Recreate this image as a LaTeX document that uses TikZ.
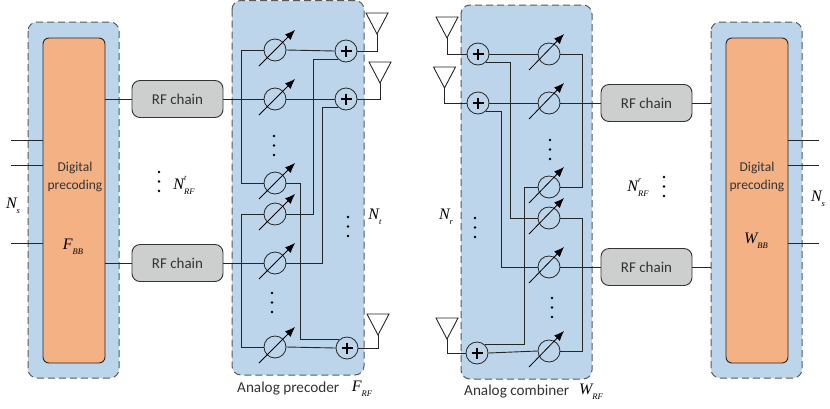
\documentclass[tikz,border=0pt]{standalone}
\usepackage{fontspec}
\setmainfont{Carlito}
\newfontfamily\varfont{Liberation Serif}
\definecolor{panelblue}{HTML}{BDD5EB}
\definecolor{baseband}{HTML}{F4B183}
\definecolor{chaingray}{HTML}{CDCFCE}
\definecolor{inkgray}{HTML}{333333}
\newcommand{\varname}[3]{{\varfont\itshape\fontsize{16}{16}\selectfont #1\rlap{\raisebox{1.2ex}{\fontsize{8}{8}\selectfont #2}}\raisebox{-0.7ex}{\fontsize{8.5}{8.5}\selectfont #3}}}
\newcommand{\dotstack}[2]{\fill (#1,#2) circle (1.3) (#1,#2+9.5) circle (1.3) (#1,#2+19) circle (1.3);}
\tikzset{
	panel/.style={draw=black!65,fill=panelblue,line width=1pt,dash pattern=on 7pt off 4pt,rounded corners=9pt},
	bbblock/.style={draw=black!85,fill=baseband,line width=0.9pt,rounded corners=6pt},
	rfchain/.style={draw=black!80,fill=chaingray,line width=0.9pt,rounded corners=8pt,minimum width=91pt,inner sep=0pt,text=inkgray,font=\fontsize{15}{18}\selectfont},
	shifter/.style={circle,draw=black!85,line width=0.8pt,minimum size=22pt,inner sep=0pt},
	adder/.style={shifter,path picture={\draw [line width=1.1pt,black] (path picture bounding box.center) ++(-5.5,0) -- ++(11,0) (path picture bounding box.center) ++(0,-5.5) -- ++(0,11);}},
	tuner/.style={line width=0.8pt,black,-{Latex[length=10pt,width=8pt]}},
	wire/.style={line width=0.9pt,black!85},
	txt/.style={inner sep=0pt,text=inkgray,font=\fontsize{13.5}{18}\selectfont,align=center},
	captxt/.style={inner sep=0pt,text=inkgray,font=\fontsize{15.2}{17}\selectfont}
}
\usetikzlibrary{arrows.meta}
\begin{document}
\begin{tikzpicture}[x=1pt,y=-1pt]
\useasboundingbox (0,0) rectangle (830,408);
% panels
\draw [panel] (28,22) rectangle (119,378);
\draw [panel] (232,0.5) rectangle (364,375);
\draw [panel] (461,5) rectangle (592,379);
\draw [panel] (711,22) rectangle (802,378);
% baseband blocks
\node [bbblock,minimum width=62pt,minimum height=325pt,inner sep=0pt] (bbt) at (74,200.5) {};
\node [bbblock,minimum width=62pt,minimum height=325pt,inner sep=0pt] (bbr) at (757,200.5) {};
\node [txt] (bbtxt) at (75,176.5) {Digital\\precoding};
\node [txt] (bbrxt) at (757,176.5) {Digital\\precoding};
\node (fbb) at (73,247) {\varname{F}{}{BB}};
\node (wbb) at (756,241) {\varname{W}{}{BB}};
% rf chains
\node [rfchain,minimum height=37pt] (rft1) at (177.5,99) {RF chain};
\node [rfchain,minimum height=37pt] (rft2) at (177.5,263) {RF chain};
\node [rfchain,minimum height=37pt] (rfr1) at (646.5,103) {RF chain};
\node [rfchain,minimum height=37pt] (rfr2) at (646.5,267) {RF chain};
% precoder shifters
\node [shifter] (pt1) at (275,50) {};
\node [shifter] (pt2) at (275,99) {};
\node [shifter] (pt3) at (275,183) {};
\node [shifter] (pt4) at (275,214) {};
\node [shifter] (pt5) at (275,263) {};
\node [shifter] (pt6) at (275,347) {};
\node [adder] (at1) at (346,51) {};
\node [adder] (at2) at (346,99) {};
\node [adder] (at3) at (347,348) {};
% combiner shifters
\node [shifter] (pr1) at (549,54) {};
\node [shifter] (pr2) at (549,103) {};
\node [shifter] (pr3) at (549,187) {};
\node [shifter] (pr4) at (549,218) {};
\node [shifter] (pr5) at (549,267) {};
\node [shifter] (pr6) at (549,351) {};
\node [adder] (ar1) at (478,54) {};
\node [adder] (ar2) at (478,103) {};
\node [adder] (ar3) at (477,353) {};
% free ends
\coordinate (st1) at (11,140);
\coordinate (st2) at (11,165);
\coordinate (st3) at (11,243);
\coordinate (sr1) at (819,140);
\coordinate (sr2) at (819,165);
\coordinate (sr3) at (819,243);
\draw [wire] (st1) -- (st1 -| bbt.west);
\draw [wire] (st2) -- (st2 -| bbt.west);
\draw [wire] (st3) -- (st3 -| bbt.west);
\draw [wire] (sr1) -- (sr1 -| bbr.east);
\draw [wire] (sr2) -- (sr2 -| bbr.east);
\draw [wire] (sr3) -- (sr3 -| bbr.east);
\draw [wire] (rft1.west) -- (rft1.west -| bbt.east);
\draw [wire] (rft2.west) -- (rft2.west -| bbt.east);
\draw [wire] (rfr1.east) -- ++(19,0);
\draw [wire] (rfr2.east) -- ++(19,0);
% precoder wiring
\draw [wire] (rft1.east) -- (pt2.west);
\draw [wire] (rft2.east) -- (pt5.west);
\draw [wire] (pt1.west) -- ++(-22,0) |- (pt3.west);
\draw [wire] (pt4.west) -- ++(-22,0) |- (pt6.west);
\draw [wire] (pt1.east) -- (at1.west);
\draw [wire] (pt2.east) -- (at2.west);
\draw [wire] (pt6.east) -- (at3.west);
\draw [wire] (pt3.east) -- ++(14,0) |- (at3.135);
\draw [wire] (pt4.east) -- ++(27,0) |- (at1.225);
\draw [wire] (pt5.east) -- ++(36,0) |- (at2.225);
% combiner wiring
\draw [wire] (ar1.east) -- (pr1.west);
\draw [wire] (ar2.east) -- (pr2.west);
\draw [wire] (ar3.east) -- (pr6.west);
\draw [wire] (ar1.315) -- ++(24,0) |- (pr4.west);
\draw [wire] (ar2.315) -- ++(15,0) |- (pr5.west);
\draw [wire] (ar3.45) -- ++(39,0) |- (pr3.west);
\draw [wire] (pr1.east) -- ++(22,0) |- (pr3.east);
\draw [wire] (pr4.east) -- ++(22,0) |- (pr6.east);
\draw [wire] (pr2.east) -- (rfr1.west);
\draw [wire] (pr5.east) -- (rfr2.west);
% tuning arrows
\draw [tuner] (pt1) ++(-16,16) -- ++(36,-36);
\draw [tuner] (pt2) ++(-16,16) -- ++(36,-36);
\draw [tuner] (pt3) ++(-16,16) -- ++(36,-36);
\draw [tuner] (pt4) ++(-16,16) -- ++(36,-36);
\draw [tuner] (pt5) ++(-16,16) -- ++(36,-36);
\draw [tuner] (pt6) ++(-16,16) -- ++(36,-36);
\draw [tuner] (pr1) ++(-20,16) -- ++(35,-36);
\draw [tuner] (pr2) ++(-20,16) -- ++(35,-36);
\draw [tuner] (pr3) ++(-20,16) -- ++(35,-36);
\draw [tuner] (pr4) ++(-20,16) -- ++(35,-36);
\draw [tuner] (pr5) ++(-20,16) -- ++(35,-36);
\draw [tuner] (pr6) ++(-20,16) -- ++(35,-36);
% antennas
\coordinate (ant1) at (377,34);
\coordinate (ant2) at (380,83);
\coordinate (ant3) at (378,335);
\coordinate (anr1) at (447,38);
\coordinate (anr2) at (444.5,88);
\coordinate (anr3) at (447,339);
\draw [wire] (ant1) -- ++(-11,-21) -- ++(22,0) -- cycle;
\draw [wire] (ant2) -- ++(-11,-21) -- ++(22,0) -- cycle;
\draw [wire] (ant3) -- ++(-11,-21) -- ++(22,0) -- cycle;
\draw [wire] (anr1) -- ++(-11,-21) -- ++(22,0) -- cycle;
\draw [wire] (anr2) -- ++(-11,-21) -- ++(22,0) -- cycle;
\draw [wire] (anr3) -- ++(-11,-21) -- ++(22,0) -- cycle;
\draw [wire] (ant1) |- (at1.east);
\draw [wire] (ant2) |- (at2.east);
\draw [wire] (ant3) |- (at3.east);
\draw [wire] (anr1) |- (ar1.west);
\draw [wire] (anr2) |- (ar2.west);
\draw [wire] (anr3) |- (ar3.west);
% dots
\dotstack{159}{172}
\dotstack{664}{177}
\dotstack{274}{136}
\dotstack{272}{293}
\dotstack{348}{217}
\dotstack{550}{140}
\dotstack{552}{298}
\dotstack{475}{218}
% labels
\node (nst) at (13,206) {\varname{N}{}{s}};
\node (nsr) at (818,199) {\varname{N}{}{s}};
\node (nrft) at (184,185) {\varname{N}{t}{RF}};
\node (nrfr) at (638,188) {\varname{N}{r}{RF}};
\node (ntx) at (375,217) {\varname{N}{}{t}};
\node (nrx) at (446,217) {\varname{N}{}{r}};
\node [captxt,anchor=west] (lblp) at (237,389) {Analog precoder};
\node (frf) at (362,389) {\varname{F}{}{RF}};
\node [captxt,anchor=west] (lblc) at (464,392) {Analog combiner};
\node (wrf) at (591,392) {\varname{W}{}{RF}};
\end{tikzpicture}
\end{document}
